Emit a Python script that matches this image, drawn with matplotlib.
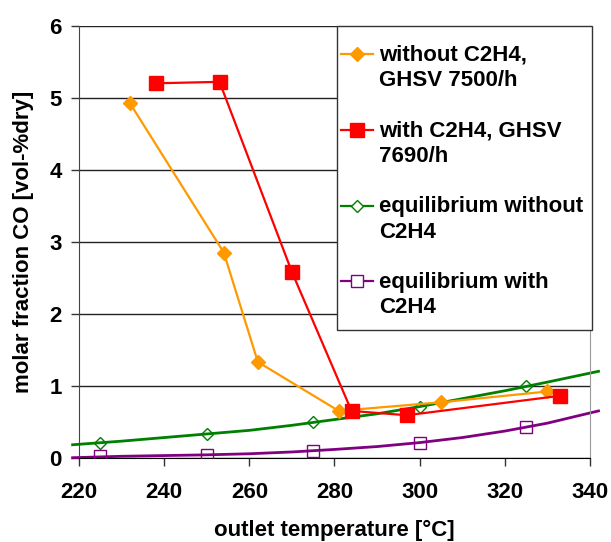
import numpy as np
import matplotlib.pyplot as plt
from matplotlib.lines import Line2D
from matplotlib.patches import Rectangle
from matplotlib.legend_handler import HandlerLine2D

plt.rcParams['font.family'] = ['Liberation Sans', 'DejaVu Sans']
plt.rcParams['font.weight'] = 'bold'

# measured data
t_no_c2h4 = [232, 254, 262, 281, 305, 330]
co_no_c2h4 = [4.92, 2.85, 1.33, 0.65, 0.77, 0.92]

t_c2h4 = [238, 253, 270, 284, 297, 333]
co_c2h4 = [5.20, 5.22, 2.58, 0.65, 0.59, 0.86]

# equilibrium points
t_eq = [225, 250, 275, 300, 325]
co_eq_no = [0.21, 0.33, 0.49, 0.71, 0.99]
co_eq_with = [0.02, 0.04, 0.10, 0.21, 0.42]

# equilibrium curves
t_curve = [218.5, 230, 240, 250, 260, 270, 280, 290, 300, 310, 320, 330, 342]
curve_no = [0.18, 0.23, 0.28, 0.33, 0.38, 0.45, 0.53, 0.61, 0.71, 0.82, 0.93, 1.05, 1.20]
curve_with = [0.0, 0.02, 0.03, 0.04, 0.055, 0.08, 0.115, 0.155, 0.21, 0.28, 0.37, 0.48, 0.65]

orange = '#FF9900'
red = '#FF0000'
green = '#008000'
purple = '#800080'
fs = 16

fig = plt.figure(figsize=(6.11, 5.42), dpi=100)
ax = fig.add_axes([0.1293, 0.1555, 0.8363, 0.7971])

# equilibrium curves + markers
ax.plot(t_curve, curve_no, color=green, lw=2, clip_on=False, zorder=2)
ax.plot(t_curve, curve_with, color=purple, lw=2, clip_on=False, zorder=2)
ax.plot(t_eq, co_eq_no, ls='none', marker='D', ms=6, mfc='none', mec=green, mew=1, zorder=3)
ax.plot(t_eq, co_eq_with, ls='none', marker='s', ms=9, mfc='none', mec=purple, mew=1, zorder=3)

# experiments
ax.plot(t_no_c2h4, co_no_c2h4, color=orange, lw=1.6, marker='D', ms=7.5, zorder=4)
ax.plot(t_c2h4, co_c2h4, color=red, lw=1.6, marker='s', ms=9.5, zorder=4)

ax.set_xlim(220, 340)
ax.set_ylim(0, 6)
ax.set_xticks(np.arange(220, 341, 20))
ax.set_yticks(np.arange(0, 7, 1))
ax.grid(axis='y', color='#222222', lw=1)
ax.set_axisbelow(True)
ax.tick_params(axis='x', direction='out', length=5.5, width=1, pad=12, labelsize=fs, color='#333333')
ax.tick_params(axis='y', direction='out', length=5.5, width=1, pad=7, labelsize=fs, color='#333333')
for lab in ax.get_xticklabels() + ax.get_yticklabels():
    lab.set_fontweight('bold')

ax.spines['top'].set_visible(False)
ax.spines['left'].set_color('#444444')
ax.spines['bottom'].set_color('#000000')
ax.spines['right'].set_color('#999999')

ax.set_xlabel('outlet temperature [°C]', fontsize=fs, fontweight='bold', labelpad=12)
ax.set_ylabel('molar fraction CO [vol-%dry]', fontsize=fs, fontweight='bold', labelpad=11)


class TopHandler(HandlerLine2D):
    def create_artists(self, *args, **kwargs):
        arts = super().create_artists(*args, **kwargs)
        for a in arts:
            a.set_ydata(np.asarray(a.get_ydata()) + 10)
        return arts


handles = [
    Line2D([], [], color=orange, lw=1.6, marker='D', ms=7.5),
    Line2D([], [], color=red, lw=1.6, marker='s', ms=9.5),
    Line2D([], [], color=green, lw=1.6, marker='D', ms=6, mfc='white', mec=green, mew=1),
    Line2D([], [], color=purple, lw=1.6, marker='s', ms=9, mfc='white', mec=purple, mew=1),
]
labels = ['without C2H4,\nGHSV 7500/h', 'with C2H4, GHSV\n7690/h',
          'equilibrium without\nC2H4', 'equilibrium with\nC2H4']

box = Rectangle((0.505, 0.2956), 0.499, 0.7044, transform=ax.transAxes,
                facecolor='white', edgecolor='#333333', lw=1, zorder=5, clip_on=False)
ax.add_patch(box)
leg = ax.legend(handles, labels, loc='upper left', bbox_to_anchor=(0.5, 0.972),
                frameon=False, prop={'weight': 'bold', 'size': fs},
                handlelength=1.45, handletextpad=0.27, labelspacing=1.3, borderpad=0.3,
                borderaxespad=0, handler_map={Line2D: TopHandler()})
leg.set_zorder(6)
for t in leg.get_texts():
    t.set_linespacing(1.3)

fig.savefig('out.png', dpi=100)
